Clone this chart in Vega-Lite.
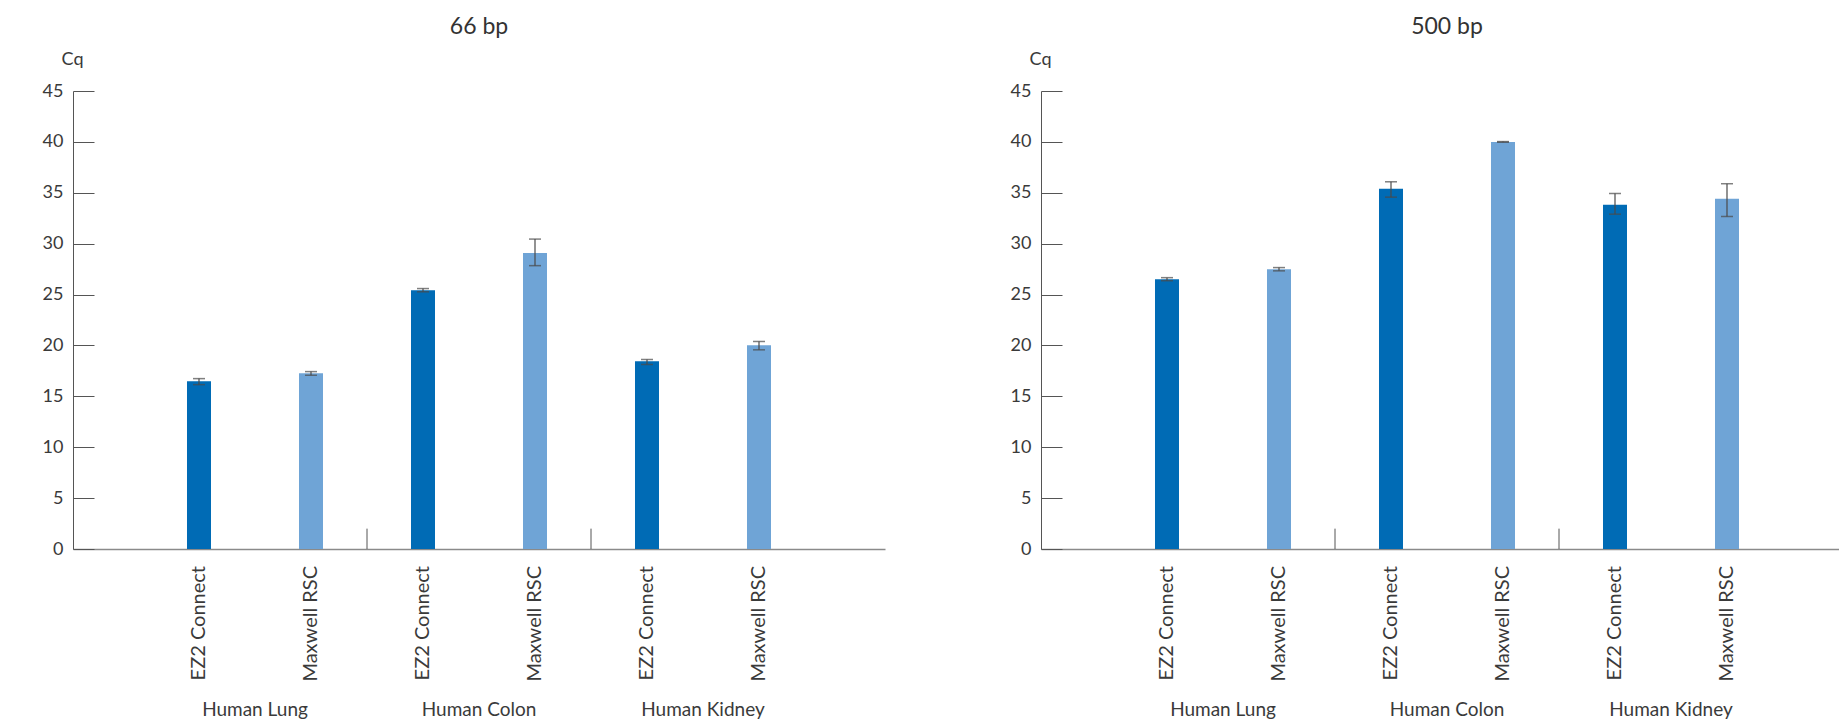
{
  "$schema": "https://vega.github.io/schema/vega-lite/v6.json",
  "background": "white",
  "padding": {"left": 42, "top": 16, "right": 0, "bottom": 0},
  "config": {
    "font": "Lato",
    "view": {"stroke": null},
    "title": {"font": "Lato", "fontSize": 23, "fontWeight": "normal", "color": "#333333", "anchor": "middle", "offset": 11},
    "axis": {"labelFont": "Lato", "titleFont": "Lato", "labelColor": "#3a3a3a", "titleColor": "#3a3a3a", "grid": false}
  },
  "datasets": {
    "bp66": [
      {"group": "Human Lung", "method": "EZ2 Connect", "cq": 16.48, "lo": 16.15, "hi": 16.74},
      {"group": "Human Lung", "method": "Maxwell RSC", "cq": 17.27, "lo": 17.07, "hi": 17.43},
      {"group": "Human Colon", "method": "EZ2 Connect", "cq": 25.43, "lo": 25.27, "hi": 25.59},
      {"group": "Human Colon", "method": "Maxwell RSC", "cq": 29.08, "lo": 27.84, "hi": 30.45},
      {"group": "Human Kidney", "method": "EZ2 Connect", "cq": 18.45, "lo": 18.13, "hi": 18.62},
      {"group": "Human Kidney", "method": "Maxwell RSC", "cq": 20.03, "lo": 19.57, "hi": 20.39}
    ],
    "bp500": [
      {"group": "Human Lung", "method": "EZ2 Connect", "cq": 26.51, "lo": 26.36, "hi": 26.66},
      {"group": "Human Lung", "method": "Maxwell RSC", "cq": 27.49, "lo": 27.33, "hi": 27.65},
      {"group": "Human Colon", "method": "EZ2 Connect", "cq": 35.39, "lo": 34.57, "hi": 36.08},
      {"group": "Human Colon", "method": "Maxwell RSC", "cq": 40.0, "lo": 39.97, "hi": 40.03},
      {"group": "Human Kidney", "method": "EZ2 Connect", "cq": 33.82, "lo": 32.9, "hi": 34.93},
      {"group": "Human Kidney", "method": "Maxwell RSC", "cq": 34.41, "lo": 32.67, "hi": 35.89}
    ]
  },
  "spacing": 125,
  "hconcat": [
    {
      "title": "66 bp",
      "width": 812,
      "height": 458,
      "data": {"name": "bp66"},
      "encoding": {
        "x": {"field": "group", "type": "nominal", "sort": ["Human Lung", "Human Colon", "Human Kidney"],
              "scale": {"paddingInner": 0, "paddingOuter": 0.3125},
              "axis": {"title": null, "ticks": false, "labelAngle": 0, "labelPadding": 151, "labelFontSize": 19, "domainColor": "#8a8a8a", "domainWidth": 1.5}},
        "xOffset": {"field": "method", "type": "nominal", "sort": ["EZ2 Connect", "Maxwell RSC"],
                    "scale": {"paddingInner": 0.7857, "paddingOuter": 0.39286}}
      },
      "layer": [
        {
          "mark": {"type": "bar"},
          "encoding": {
            "y": {"field": "cq", "type": "quantitative",
                  "scale": {"domain": [0, 45], "nice": false},
                  "axis": {"title": "Cq", "titleAngle": 0, "titleAlign": "center", "titleBaseline": "alphabetic", "titleX": -1, "titleY": -27, "titleFontSize": 18, "titleFontWeight": "normal",
                           "values": [0, 5, 10, 15, 20, 25, 30, 35, 40, 45], "tickSize": -21, "labelPadding": 31, "labelFontSize": 18, "tickColor": "#555555", "domainColor": "#555555", "tickWidth": 1}},
            "color": {"field": "method", "type": "nominal", "scale": {"domain": ["EZ2 Connect", "Maxwell RSC"], "range": ["#006bb5", "#6fa4d6"]}, "legend": null}
          }
        },
        {
          "mark": {"type": "rule", "color": "#4a4a4a", "strokeWidth": 1.2},
          "encoding": {"y": {"field": "lo", "type": "quantitative"}, "y2": {"field": "hi"}}
        },
        {
          "mark": {"type": "tick", "color": "#4a4a4a", "size": 12, "thickness": 1.5, "orient": "horizontal"},
          "encoding": {"y": {"field": "lo", "type": "quantitative"}}
        },
        {
          "mark": {"type": "tick", "color": "#4a4a4a", "size": 12, "thickness": 1.5, "orient": "horizontal"},
          "encoding": {"y": {"field": "hi", "type": "quantitative"}}
        },
        {
          "mark": {"type": "text", "angle": 270, "align": "right", "baseline": "middle", "dx": -17, "fontSize": 20, "color": "#3a3a3a", "font": "Lato"},
          "encoding": {"y": {"datum": 0}, "text": {"field": "method"}}
        },
        {
          "transform": [{"filter": "datum.method == 'EZ2 Connect' && datum.group != 'Human Lung'"}],
          "mark": {"type": "rule", "color": "#555555", "strokeWidth": 1},
          "encoding": {
            "x": {"field": "group", "type": "nominal", "sort": ["Human Lung", "Human Colon", "Human Kidney"], "bandPosition": 0},
            "xOffset": null,
            "y": {"datum": 0}, "y2": {"datum": 2}
          }
        }
      ]
    },
    {
      "title": "500 bp",
      "width": 812,
      "height": 458,
      "data": {"name": "bp500"},
      "encoding": {
        "x": {"field": "group", "type": "nominal", "sort": ["Human Lung", "Human Colon", "Human Kidney"],
              "scale": {"paddingInner": 0, "paddingOuter": 0.3125},
              "axis": {"title": null, "ticks": false, "labelAngle": 0, "labelPadding": 151, "labelFontSize": 19, "domainColor": "#8a8a8a", "domainWidth": 1.5}},
        "xOffset": {"field": "method", "type": "nominal", "sort": ["EZ2 Connect", "Maxwell RSC"],
                    "scale": {"paddingInner": 0.7857, "paddingOuter": 0.39286}}
      },
      "layer": [
        {
          "mark": {"type": "bar"},
          "encoding": {
            "y": {"field": "cq", "type": "quantitative",
                  "scale": {"domain": [0, 45], "nice": false},
                  "axis": {"title": "Cq", "titleAngle": 0, "titleAlign": "center", "titleBaseline": "alphabetic", "titleX": -1, "titleY": -27, "titleFontSize": 18, "titleFontWeight": "normal",
                           "values": [0, 5, 10, 15, 20, 25, 30, 35, 40, 45], "tickSize": -21, "labelPadding": 31, "labelFontSize": 18, "tickColor": "#555555", "domainColor": "#555555", "tickWidth": 1}},
            "color": {"field": "method", "type": "nominal", "scale": {"domain": ["EZ2 Connect", "Maxwell RSC"], "range": ["#006bb5", "#6fa4d6"]}, "legend": null}
          }
        },
        {
          "mark": {"type": "rule", "color": "#4a4a4a", "strokeWidth": 1.2},
          "encoding": {"y": {"field": "lo", "type": "quantitative"}, "y2": {"field": "hi"}}
        },
        {
          "mark": {"type": "tick", "color": "#4a4a4a", "size": 12, "thickness": 1.5, "orient": "horizontal"},
          "encoding": {"y": {"field": "lo", "type": "quantitative"}}
        },
        {
          "mark": {"type": "tick", "color": "#4a4a4a", "size": 12, "thickness": 1.5, "orient": "horizontal"},
          "encoding": {"y": {"field": "hi", "type": "quantitative"}}
        },
        {
          "mark": {"type": "text", "angle": 270, "align": "right", "baseline": "middle", "dx": -17, "fontSize": 20, "color": "#3a3a3a", "font": "Lato"},
          "encoding": {"y": {"datum": 0}, "text": {"field": "method"}}
        },
        {
          "transform": [{"filter": "datum.method == 'EZ2 Connect' && datum.group != 'Human Lung'"}],
          "mark": {"type": "rule", "color": "#555555", "strokeWidth": 1},
          "encoding": {
            "x": {"field": "group", "type": "nominal", "sort": ["Human Lung", "Human Colon", "Human Kidney"], "bandPosition": 0},
            "xOffset": null,
            "y": {"datum": 0}, "y2": {"datum": 2}
          }
        }
      ]
    }
  ]
}
